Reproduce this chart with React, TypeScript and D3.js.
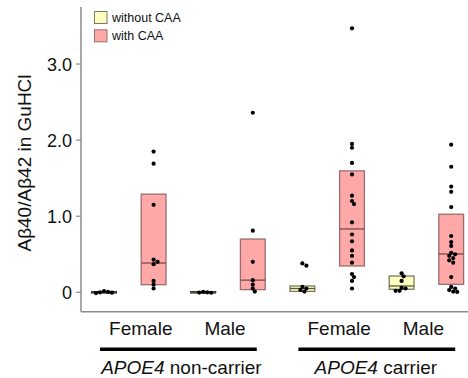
import React from "react";
import * as d3 from "d3";

// Box order: carrier status → sex → CAA status
const carrierGroups = ["non-carrier", "carrier"];
const sexes = ["Female", "Male"];
const caaStatus = ["without CAA", "with CAA"];

const boxKeys = [
  "nc-F-without", "nc-F-with", "nc-M-without", "nc-M-with",
  "c-F-without", "c-F-with", "c-M-without", "c-M-with",
];

// Box summaries (lower edge, median, upper edge)
const boxLower = [-0.008, 0.10, -0.008, 0.035, 0.012, 0.346, 0.04, 0.105];
const boxMedian = [0, 0.385, 0, 0.16, 0.05, 0.833, 0.083, 0.504];
const boxUpper = [0.008, 1.29, 0.008, 0.70, 0.083, 1.596, 0.214, 1.026];

// Individual cases
const ncFemaleWithout = [0.015, 0.005, 0, -0.005, -0.01];
const ncFemaleWith = [1.85, 1.69, 1.15, 0.43, 0.4, 0.37, 0.15, 0.1, 0.05];
const ncMaleWithout = [0.005, 0, -0.003, -0.006];
const ncMaleWith = [2.36, 0.81, 0.4, 0.16, 0.1, 0.05, 0.01];
const cFemaleWithout = [0.38, 0.35, 0.07, 0.05, 0.03, 0.01];
const cFemaleWith = [
  3.47, 1.95, 1.9, 1.7, 1.55, 1.27, 1.2, 1.16, 0.92, 0.76, 0.67, 0.55, 0.48,
  0.39, 0.24, 0.2, 0.15, 0.05,
];
const cMaleWithout = [0.25, 0.21, 0.15, 0.06, 0.05, 0.02, 0.02];
const cMaleWith = [
  1.94, 1.65, 1.39, 1.32, 1.12, 0.74, 0.66, 0.61, 0.52, 0.5, 0.48, 0.45, 0.42,
  0.39, 0.2, 0.07, 0.05, 0.03, 0.01, 0.005,
];

const pointSets = [
  ncFemaleWithout, ncFemaleWith, ncMaleWithout, ncMaleWith,
  cFemaleWithout, cFemaleWith, cMaleWithout, cMaleWith,
];

const yTicks = [0, 1, 2, 3];
const yTickLabels = ["0", "1.0", "2.0", "3.0"];

const W = 468;
const H = 378;
const FONT = "'Liberation Sans', Arial, Helvetica, sans-serif";
const FILL = { "without CAA": "#ffffc0", "with CAA": "#ffa8a8" } as Record<string, string>;
const STROKE = { "without CAA": "#7a7a62", "with CAA": "#9a6e6e" } as Record<string, string>;

const R = 2.1;

// Simple deterministic swarm: nudge each dot sideways until it clears earlier dots
function swarm(values: number[], y: (v: number) => number) {
  const placed: { dx: number; py: number; v: number }[] = [];
  const sorted = [...values].sort((a, b) => b - a);
  const minD = 3.4;
  for (const v of sorted) {
    const py = y(v);
    let dx = 0;
    for (let k = 0; k < 40; k++) {
      const step = Math.ceil(k / 2) * 2 * (k % 2 === 1 ? 1 : -1);
      const ok = placed.every((p) => Math.hypot(p.dx - step, p.py - py) >= minD);
      if (ok) {
        dx = step;
        break;
      }
    }
    placed.push({ dx, py, v });
  }
  return placed;
}

export default function App() {
  const y = d3.scaleLinear().domain([-0.255, 3.75]).range([311.7, 7]);
  const x = d3
    .scaleBand<string>()
    .domain(boxKeys)
    .range([79.2, 476])
    .paddingInner(0.5)
    .paddingOuter(0.25);
  const bw = x.bandwidth();
  const axisX = 81;
  const axisBottom = y.range()[0];

  const caaOf = (i: number) => caaStatus[i % 2];
  const cx = (i: number) => (x(boxKeys[i]) as number) + bw / 2;

  // Sex labels sit between each pair of boxes
  const sexLabels = carrierGroups.flatMap((_, ci) =>
    sexes.map((s, si) => {
      const i0 = ci * 4 + si * 2;
      const mid = (cx(i0) + cx(i0 + 1)) / 2;
      return { text: s, x: mid + (s === "Female" ? 12 : -3) };
    })
  );

  return (
    <svg
      width={W}
      height={H}
      style={{ position: "absolute", left: 0, top: 0, background: "#fff" }}
      fontFamily={FONT}
    >
      {/* axes */}
      <line x1={axisX} x2={axisX} y1={7} y2={axisBottom} stroke="#8c8c8c" strokeWidth={1.5} />
      <line x1={axisX} x2={W} y1={axisBottom} y2={axisBottom} stroke="#8c8c8c" strokeWidth={1.5} />
      {yTicks.map((t, i) => (
        <g key={t}>
          <line x1={axisX - 5} x2={axisX} y1={y(t)} y2={y(t)} stroke="#8c8c8c" strokeWidth={1.2} />
          <text
            x={axisX - 9}
            y={y(t)}
            dy="0.36em"
            textAnchor="end"
            fontSize={18}
            fill="#111"
          >
            {yTickLabels[i]}
          </text>
        </g>
      ))}
      <text
        transform={`translate(31,163) rotate(-90)`}
        textAnchor="middle"
        fontSize={19}
        fill="#111"
      >
        Aβ40/Aβ42 in GuHCl
      </text>

      {/* boxes */}
      {boxKeys.map((k, i) => {
        const caa = caaOf(i);
        const x0 = x(k) as number;
        const flat = y(boxLower[i]) - y(boxUpper[i]) < 2;
        return (
          <g key={k}>
            <rect
              x={x0}
              y={y(boxUpper[i])}
              width={bw}
              height={Math.max(0, y(boxLower[i]) - y(boxUpper[i]))}
              fill={FILL[caa]}
              stroke={flat ? "#222" : STROKE[caa]}
              strokeWidth={1.3}
            />
            <line
              x1={x0}
              x2={x0 + bw}
              y1={y(boxMedian[i])}
              y2={y(boxMedian[i])}
              stroke={caa === "with CAA" ? "#7a4a4a" : "#5a5a40"}
              strokeWidth={1.3}
            />
          </g>
        );
      })}

      {/* points */}
      {pointSets.map((vals, i) =>
        swarm(vals, y).map((p, j) => (
          <circle key={`${i}-${j}`} cx={cx(i) + p.dx} cy={p.py} r={R} fill="#000" />
        ))
      )}

      {/* legend */}
      {caaStatus.map((c, i) => (
        <g key={c} transform={`translate(94.5,${11.5 + i * 18.3})`}>
          <rect width={12.5} height={12} fill={FILL[c]} stroke={STROKE[c]} strokeWidth={1} />
          <text x={17.5} y={10.5} fontSize={12.5} fill="#111">
            {c}
          </text>
        </g>
      ))}

      {/* category labels */}
      {sexLabels.map((l, i) => (
        <text key={i} x={l.x} y={335} textAnchor="middle" fontSize={19} fill="#111">
          {l.text}
        </text>
      ))}
      {carrierGroups.map((g, ci) => {
        const left = cx(ci * 4) - 4;
        const right = cx(ci * 4 + 3) + 4;
        const mid = (left + right) / 2;
        return (
          <g key={g}>
            <line x1={left} x2={right} y1={349.2} y2={349.2} stroke="#000" strokeWidth={3.6} />
            <text x={mid + (ci === 0 ? 3 : -1)} y={374.3} textAnchor="middle" fontSize={19} fill="#111">
              <tspan fontStyle="italic">APOE4</tspan> {g}
            </text>
          </g>
        );
      })}
    </svg>
  );
}
